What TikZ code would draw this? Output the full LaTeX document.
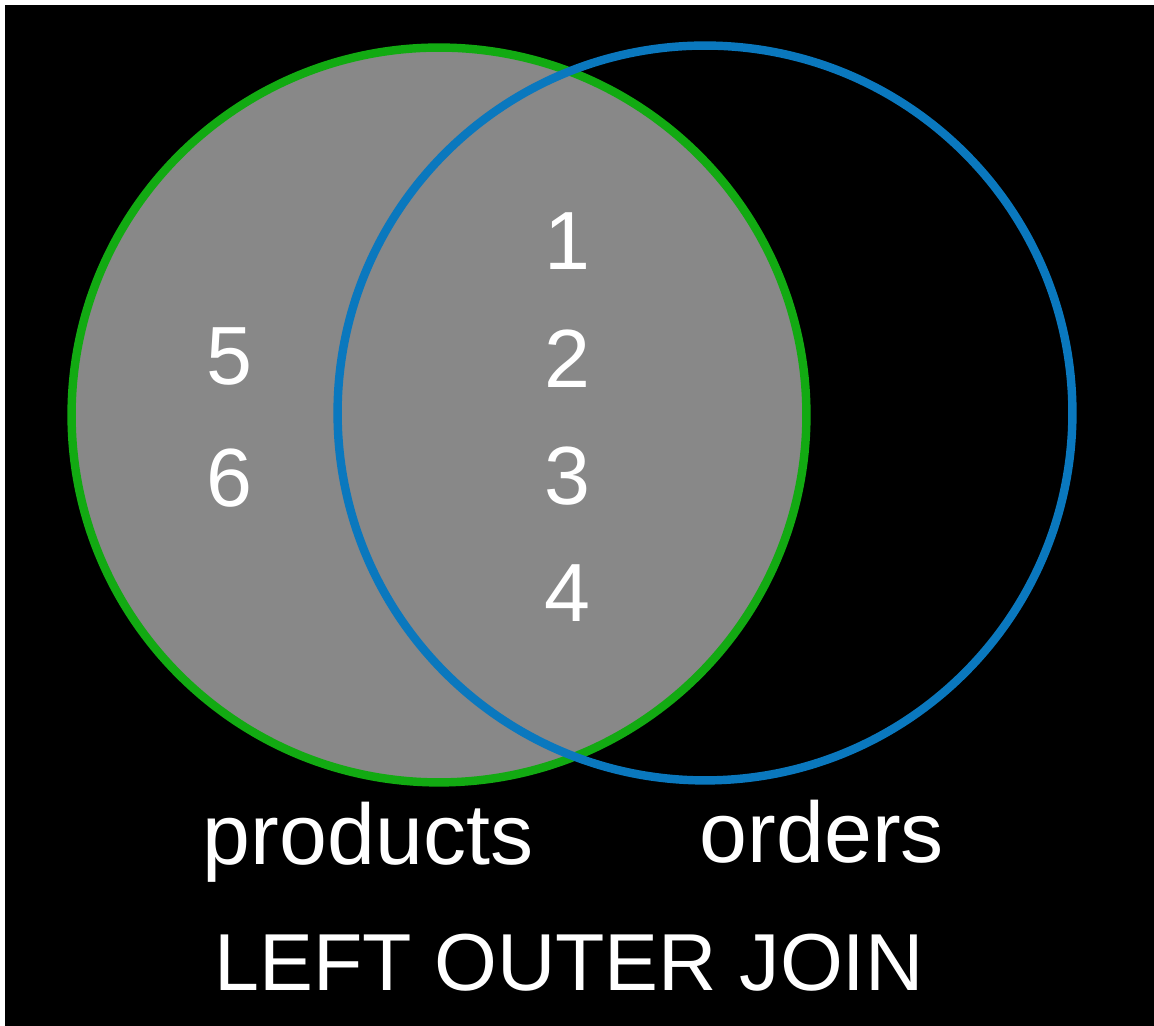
\documentclass[tikz,border=0pt]{standalone}
\usepackage{fontspec}
\setmainfont{Liberation Sans}
\usepackage{xcolor}

\definecolor{setgreen}{RGB}{18,170,18}
\definecolor{setblue}{RGB}{10,120,190}
\definecolor{setgrey}{RGB}{136,136,136}

\begin{document}
\begin{tikzpicture}[
    x=0.02cm, y=0.02cm,
    setcircle/.style={
        circle,
        draw,
        inner sep=0pt,
        minimum size=14.7cm,
        line width=4.8pt
    },
    label/.style={
        anchor=base,
        text=white,
        inner sep=0pt,
        font=\fontsize{47}{56}\selectfont
    },
    caption/.style={
        label,
        font=\fontsize{49}{58}\selectfont
    }
]

    % --- Background ---
    \fill[white] (0,0) rectangle (1154,1026);
    \fill[black] (5,0) rectangle (1154,1021);
    \useasboundingbox (0,0) rectangle (1154,1026);

    % --- Sets ---
    \node [setcircle, draw=setgreen, fill=setgrey] (products) at (439,611) {};
    \node [setcircle, draw=setblue] (orders) at (705,613) {};

    % --- Rows ---
    \node [label] (row1) at (567,756) {1};
    \node [label] (row2) at (567,638) {2};
    \node [label] (row3) at (567,521) {3};
    \node [label] (row4) at (567,404) {4};
    \node [label] (row5) at (229,641) {5};
    \node [label] (row6) at (229,519) {6};

    % --- Captions ---
    \node [caption] (prodname) at (368,161) {products};
    \node [caption] (ordname) at (822,163) {orders};
    \node [label, font=\fontsize{46}{55}\selectfont] (jointype) at (569,35) {LEFT OUTER JOIN};

\end{tikzpicture}
\end{document}
